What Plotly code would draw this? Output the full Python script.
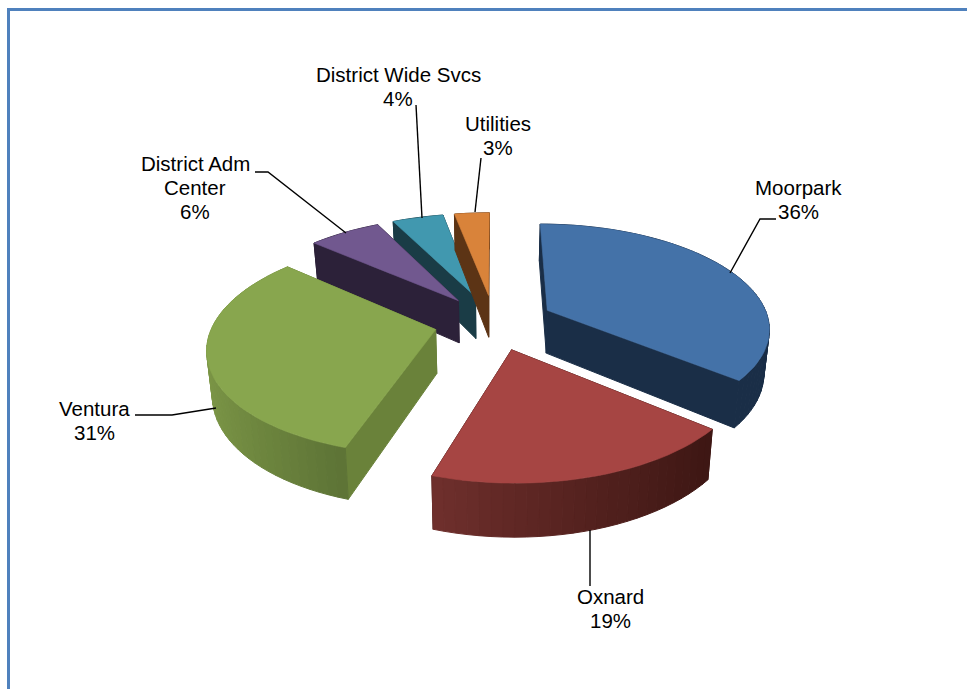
import numpy as np
import plotly.graph_objects as go

categories = ["Moorpark", "Oxnard", "Ventura", "District Adm<br>Center", "District Wide Svcs", "Utilities"]
percent_labels = ["36%", "19%", "31%", "6%", "4%", "3%"]
shares = [36.0, 18.9, 31.49, 6.2, 4.4, 3.0]

top_colors = ["#4472A8", "#A64543", "#88A64E", "#71588F", "#4198AF", "#D9833A"]
wall_left = [(26, 46, 71), (112, 48, 45), (126, 153, 72), (44, 33, 57), (26, 60, 70), (92, 52, 21)]
wall_right = [(26, 46, 71), (62, 23, 20), (94, 116, 54), (44, 33, 57), (26, 60, 70), (92, 52, 21)]
face_colors = ["#1A2E47", "#401714", "#6A823A", "#2C2139", "#1A3C46", "#5C3415"]

label_xy = [(798, 199), (610, 608), (94, 420), (195, 187), (398, 86), (498, 135)]
leaders = [
    "M 776 219 L 760 219 L 730 273",
    "M 590 586 L 590 530",
    "M 135 415 L 172 415 L 216 408",
    "M 255 172 L 268 172 L 346 233",
    "M 416 105 L 422 218",
    "M 481 158 L 475 212",
]

CX, CY, RX, RY, K, EXPLODE, DEPTH, SHRINK = 494, 322, 222, 103, 0.155, 0.27, 43.5, 0.98
LINE_STEP = 24


def project(u, v, lower=False):
    f = 1 / (1 + K * v)
    x = CX + RX * u * f
    y = CY - RY * v * f
    if lower:
        x = CX + (x - CX) * SHRINK
        y = y + DEPTH * f
    return x, y


def poly(fig, xs, ys, color, name, width=1.0):
    fig.add_trace(go.Scatter(
        x=list(xs), y=list(ys), mode="lines", fill="toself", fillcolor=color,
        line=dict(color=color, width=width), hoverinfo="text", text=name,
        showlegend=False,
    ))


fig = go.Figure()
total = sum(shares)
edges = np.concatenate([[0], np.cumsum(shares)]) / total * 2 * np.pi

# back slices first, then the three large ones
for i in [4, 5, 3, 0, 2, 1]:
    a0, a1 = edges[i], edges[i + 1]
    mid = (a0 + a1) / 2
    du, dv = EXPLODE * np.sin(mid), EXPLODE * np.cos(mid)
    ang = np.linspace(a0, a1, max(4, int((a1 - a0) * 24)))
    us, vs = du + np.sin(ang), dv + np.cos(ang)
    name = categories[i].replace("<br>", " ")
    faces = []
    n = len(ang) - 1
    l, r = np.array(wall_left[i]), np.array(wall_right[i])
    # the wall gradient runs left to right across the screen
    front = vs < dv + 0.6
    u_lo, u_hi = us[front].min() if front.any() else us.min(), us[front].max() if front.any() else us.max()
    for j in range(n):
        sx = np.clip((us[j] - u_lo) / max(u_hi - u_lo, 1e-6), 0, 1)
        color = "rgb(%d,%d,%d)" % tuple(l + (r - l) * sx)
        faces.append(((vs[j] + vs[j + 1]) / 2,
                      [(us[j], vs[j]), (us[j + 1], vs[j + 1])], color))
    faces.append(((dv + vs[0]) / 2, [(du, dv), (us[0], vs[0])], face_colors[i]))
    faces.append(((dv + vs[-1]) / 2, [(du, dv), (us[-1], vs[-1])], face_colors[i]))
    for _, pts, color in sorted(faces, key=lambda f: -f[0]):
        (u0, v0), (u1, v1) = pts
        xa, ya = project(u0, v0)
        xb, yb = project(u1, v1)
        xc, yc = project(u1, v1, True)
        xd, yd = project(u0, v0, True)
        poly(fig, [xa, xb, xc, xd, xa], [ya, yb, yc, yd, ya], color, name)
    tx, ty = project(np.r_[du, us, du], np.r_[dv, vs, dv])
    poly(fig, tx, ty, top_colors[i], name, 0.6)

shapes = [dict(type="path", path=p, line=dict(color="#000000", width=1.4), layer="above") for p in leaders]
shapes.append(dict(type="path", path="M 8.5 700 L 8.5 9.5 L 980 9.5",
                   line=dict(color="#4F81BD", width=3), layer="above"))

annotations = []
for c, p, (x, y) in zip(categories, percent_labels, label_xy):
    lines = c.split("<br>") + [p]
    for k, line in enumerate(lines):
        annotations.append(dict(
            x=x, y=y + (k - (len(lines) - 1) / 2) * LINE_STEP, xref="x", yref="y",
            text=line, showarrow=False,
            font=dict(family="Liberation Sans, Arial, sans-serif", size=20.5, color="#000000"),
            align="center", xanchor="center", yanchor="middle"))

fig.update_layout(
    width=967, height=689, margin=dict(l=0, r=0, t=0, b=0),
    paper_bgcolor="white", plot_bgcolor="white", showlegend=False,
    xaxis=dict(range=[0, 967], visible=False, fixedrange=True),
    yaxis=dict(range=[689, 0], visible=False, fixedrange=True),
    shapes=shapes, annotations=annotations,
)

fig.write_html("out.html", config={"displayModeBar": False},
               post_script="document.body.style.margin='0';document.body.style.overflow='hidden';")
